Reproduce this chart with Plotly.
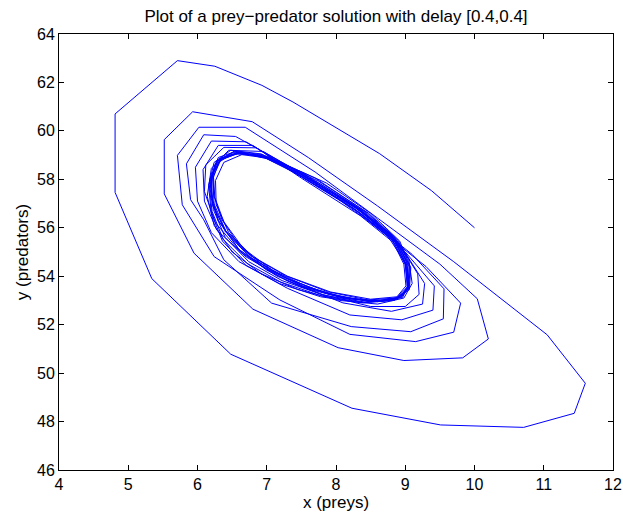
import plotly.graph_objects as go

# Phase-portrait trajectory (x = preys, y = predators)
x_outer = [10.0, 9.38, 8.63, 7.38, 6.93, 6.25, 5.71, 4.81, 4.81, 5.34, 6.48, 8.23, 9.51, 10.71, 11.44, 11.6, 11.05, 10.55, 9.7, 8.6, 7.6,
           6.79, 5.93, 5.52, 5.52, 5.95, 6.8, 8.03, 8.98, 9.83, 10.2, 10.04, 9.5, 8.6, 7.7,
           6.69, 6.02, 5.71, 5.78, 6.24, 7.19, 8.2, 9.15, 9.70, 9.80, 9.3, 8.5, 7.6,
           6.55, 6.09, 5.84, 5.9, 6.09, 6.38, 7.07, 8.22, 9.08, 9.55, 9.56, 9.1, 8.4, 7.5,
           6.7, 6.2, 5.97, 6.0, 6.2, 6.6, 7.3, 8.2, 8.95, 9.4, 9.42, 9.0, 8.35, 7.5,
           6.8, 6.3, 6.08, 6.1, 6.28, 6.7, 7.3, 8.1, 8.8, 9.25, 9.28, 8.95, 8.3, 7.5,
           6.85, 6.38, 6.12, 6.1, 6.26, 6.62, 7.15, 7.8, 8.5, 9.0, 9.2, 9.18, 8.9, 8.3, 7.55]
y_outer = [56.0, 57.53, 59.06, 61.19, 61.88, 62.67, 62.9, 60.7, 57.46, 53.9, 50.78, 48.55, 47.86, 47.76, 48.34, 49.58, 51.58, 52.7, 54.6, 56.9, 58.9,
           60.38, 60.79, 59.64, 57.4, 54.95, 52.64, 51.05, 50.52, 50.63, 51.41, 53.07, 54.5, 56.4, 58.3,
           60.15, 60.15, 58.99, 56.95, 54.81, 53.02, 51.6, 51.3, 51.69, 52.89, 54.4, 56.2, 58.1,
           59.77, 59.84, 58.64, 57.16, 56.33, 54.68, 52.89, 51.92, 51.71, 52.24, 53.48, 54.9, 56.5, 58.2,
           59.55, 59.58, 58.5, 57.1, 55.8, 54.6, 53.5, 52.4, 52.2, 52.6, 53.6, 55.0, 56.5, 58.05,
           59.4, 59.4, 58.4, 57.1, 55.9, 54.8, 53.8, 52.9, 52.55, 52.85, 53.7, 55.2, 56.7, 58.1,
           59.3, 59.32, 58.6, 57.5, 56.2, 55.0, 54.0, 53.25, 52.75, 52.75, 53.25, 54.1, 55.4, 56.8, 58.15]

# Converging loops near the limit cycle
x_cycle = [6.95, 6.45, 6.2, 6.14, 6.24, 6.5, 6.92, 7.45, 8.05, 8.6, 8.98, 9.1, 9.05, 8.8, 8.25, 7.5,
           6.9, 6.5, 6.25, 6.18, 6.3, 6.6, 7.0, 7.55, 8.12, 8.6, 8.95, 9.06, 9.0, 8.75, 8.2, 7.45,
           7.02, 6.58, 6.3, 6.2, 6.22, 6.4, 6.75, 7.25, 7.85, 8.45, 8.86, 9.04, 9.03, 8.85, 8.4, 7.8,
           7.0, 6.6, 6.33, 6.2, 6.2, 6.3, 6.6, 7.0, 7.5, 8.1, 8.6, 8.95, 9.05, 9.02, 8.84, 8.3, 7.5,
           6.97, 6.55, 6.3, 6.18, 6.22, 6.42, 6.78, 7.3, 7.9, 8.48, 8.88, 9.05, 9.04, 8.86, 8.42, 7.78,
           7.05, 6.62, 6.35, 6.22, 6.24, 6.35, 6.62, 7.02, 7.52, 8.1, 8.58, 8.93, 9.03, 9.0, 8.82, 8.28, 7.48,
           6.92, 6.48, 6.24, 6.16, 6.2, 6.36, 6.7, 7.18, 7.78, 8.38, 8.84, 9.06, 9.08, 8.92, 8.5, 7.86,
           7.08, 6.64, 6.38, 6.26, 6.27, 6.45, 6.8, 7.3, 7.92, 8.5, 8.88, 9.01, 8.98, 8.8, 8.34, 7.62,
           6.9, 6.52, 6.28, 6.19, 6.23, 6.4, 6.74, 7.22, 7.82, 8.42, 8.85, 9.04, 9.06, 8.88, 8.45, 7.7,
           7.04, 6.6, 6.34, 6.23, 6.25, 6.38, 6.66, 7.08, 7.6, 8.18, 8.64, 8.96, 9.04, 9.0, 8.8, 8.26, 7.5,
           6.94, 6.53, 6.27, 6.17, 6.21, 6.37, 6.72, 7.2, 7.8, 8.4, 8.83, 9.05, 9.07, 8.9, 8.47, 7.75,
           7.01, 6.59, 6.32, 6.22, 6.24, 6.41, 6.77, 7.27, 7.88, 8.46, 8.87, 9.03, 9.02, 8.84, 8.38, 7.66]
y_cycle = [59.15, 59.2, 58.45, 57.3, 56.1, 55.0, 54.1, 53.45, 53.0, 52.85, 53.1, 53.7, 54.7, 55.7, 56.95, 58.3,
           59.0, 59.05, 58.6, 57.6, 56.3, 55.1, 54.3, 53.55, 53.1, 52.95, 53.15, 53.65, 54.55, 55.65, 56.9, 58.2,
           58.95, 59.1, 58.8, 58.05, 57.0, 55.85, 54.8, 53.95, 53.3, 52.98, 53.05, 53.5, 54.4, 55.5, 56.6, 57.7,
           58.85, 59.12, 58.85, 58.1, 57.2, 56.3, 55.1, 54.25, 53.55, 53.1, 52.98, 53.15, 53.6, 54.6, 55.64, 56.85, 58.2,
           58.9, 59.15, 58.9, 58.0, 56.9, 55.8, 54.75, 53.9, 53.25, 52.95, 53.05, 53.5, 54.45, 55.5, 56.65, 57.8,
           58.85, 59.1, 58.9, 58.2, 57.3, 56.35, 55.2, 54.3, 53.6, 53.12, 52.97, 53.12, 53.58, 54.5, 55.6, 56.82, 58.15,
           59.05, 59.2, 58.7, 57.75, 56.6, 55.45, 54.45, 53.7, 53.15, 52.9, 53.0, 53.45, 54.35, 55.45, 56.6, 57.85,
           58.85, 59.02, 58.7, 57.95, 56.95, 55.8, 54.8, 54.0, 53.35, 53.05, 53.15, 53.6, 54.5, 55.55, 56.75, 58.0,
           59.0, 59.12, 58.75, 57.85, 56.75, 55.6, 54.6, 53.82, 53.22, 52.93, 53.02, 53.48, 54.38, 55.48, 56.62, 58.05,
           58.9, 59.08, 58.82, 58.15, 57.25, 56.25, 55.15, 54.25, 53.55, 53.08, 52.96, 53.12, 53.56, 54.48, 55.6, 56.8, 58.12,
           59.02, 59.16, 58.72, 57.8, 56.68, 55.52, 54.52, 53.76, 53.18, 52.92, 53.01, 53.47, 54.37, 55.47, 56.6, 57.92,
           58.92, 59.08, 58.78, 58.0, 56.98, 55.86, 54.84, 54.02, 53.36, 53.02, 53.1, 53.55, 54.46, 55.52, 56.7, 57.95]

x_vals = x_outer + x_cycle
y_vals = y_outer + y_cycle

x_ticks = [4, 5, 6, 7, 8, 9, 10, 11, 12]
y_ticks = [46, 48, 50, 52, 54, 56, 58, 60, 62, 64]

FONT = "Liberation Sans, Arial, Helvetica"

fig = go.Figure(go.Scatter(x=x_vals, y=y_vals, mode="lines",
                           line=dict(color="rgb(0,0,255)", width=1)))

axis_common = dict(showline=True, linecolor="black", linewidth=1, mirror="ticks",
                   ticks="inside", ticklen=5, tickcolor="black", showgrid=False,
                   zeroline=False, tickfont=dict(family=FONT, size=16, color="black"))

fig.update_layout(
    width=623, height=520,
    margin=dict(l=59, r=10, t=34, b=50),
    plot_bgcolor="white", paper_bgcolor="white",
    showlegend=False,
    title=dict(text="Plot of a prey\u2212predator solution with delay [0.4,0.4]",
               x=0.5, xref="paper", xanchor="center", y=1 - 16 / 520, yref="container",
               yanchor="middle",
               font=dict(family=FONT, size=17, color="black")),
    xaxis=dict(range=[4, 12], tickvals=x_ticks, ticktext=[str(v) for v in x_ticks],
               automargin=False,
               title=dict(text="x (preys)", standoff=3,
                          font=dict(family=FONT, size=17, color="black")),
               **axis_common),
    yaxis=dict(range=[46, 64], tickvals=y_ticks, ticktext=[str(v) for v in y_ticks],
               automargin=False,
               title=dict(text="y (predators)", standoff=4,
                          font=dict(family=FONT, size=17, color="black")),
               **axis_common),
)

fig.write_html("out.html")
